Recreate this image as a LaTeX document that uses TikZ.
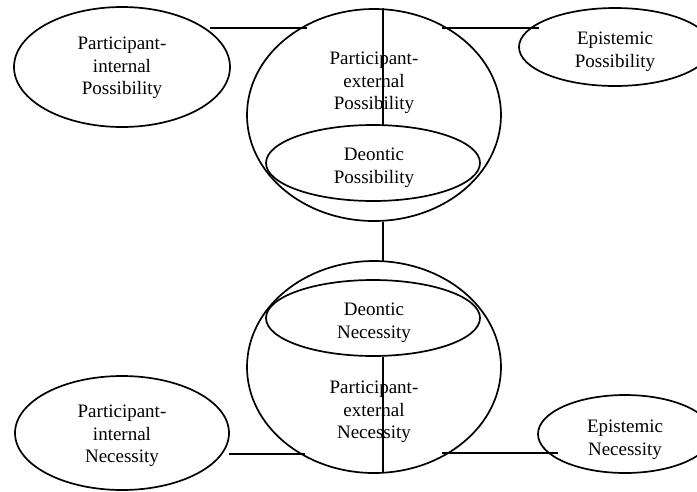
\documentclass[tikz,border=0pt]{standalone}
\usepackage{fontspec}
\setmainfont{Liberation Serif}
\usetikzlibrary{shapes.geometric}
\begin{document}
\begin{tikzpicture}[x=1pt,y=-1pt,
  oval/.style={draw, ellipse, line width=1.7pt, inner sep=0pt},
  lbl/.style={align=center, font=\fontsize{19}{22.5}\selectfont, inner sep=0pt},
  link/.style={line width=1.7pt}]
\useasboundingbox (0,0) rectangle (697,491);
\clip (0,0) rectangle (697,491);

% possibility half
\node[oval, minimum width=254pt, minimum height=212pt] (topc) at (374,115) {};
\node[oval, minimum width=214pt, minimum height=76pt] (dp) at (373,163) {};
\node[oval, minimum width=216pt, minimum height=120pt] (pip) at (122,67) {};
\node[oval, minimum width=192pt, minimum height=78pt] (ep) at (615,47) {};
\node[lbl] (dpT) at (374,168) {Deontic\\Possibility};
\node[lbl] (pepT) at (374,83) {Participant-\\external\\Possibility};
\node[lbl] (pipT) at (122,68) {Participant-\\internal\\Possibility};
\node[lbl] (epT) at (615,52) {Epistemic\\Possibility};

% necessity half
\node[oval, minimum width=254pt, minimum height=212pt] (botc) at (374,367) {};
\node[oval, minimum width=214pt, minimum height=76pt] (dn) at (373,318) {};
\node[oval, minimum width=214pt, minimum height=114pt] (pin) at (122,433) {};
\node[oval, minimum width=174pt, minimum height=78pt] (en) at (625,434) {};
\node[lbl] (dnT) at (374,323) {Deontic\\Necessity};
\node[lbl] (penT) at (374,412) {Participant-\\external\\Necessity};
\node[lbl] (pinT) at (122,436) {Participant-\\internal\\Necessity};
\node[lbl] (enT) at (625,440) {Epistemic\\Necessity};

% connector end points
\coordinate (pipR) at (210,28);
\coordinate (topcL) at (307,28);
\coordinate (topcR) at (442,28);
\coordinate (epL) at (539,28);
\coordinate (topcN) at (383,8);
\coordinate (dpN) at (383,125);
\coordinate (topcS) at (383,222);
\coordinate (botcN) at (383,261);
\coordinate (dnS) at (383,357);
\coordinate (botcS) at (383,473);
\coordinate (pinR) at (229,454);
\coordinate (botcL) at (305,454);
\coordinate (botcR) at (442,453);
\coordinate (enL) at (558,453);

\draw[link] (pipR) -- (topcL);
\draw[link] (topcR) -- (epL);
\draw[link] (topcN) -- (dpN);
\draw[link] (topcS) -- (botcN);
\draw[link] (dnS) -- (botcS);
\draw[link] (pinR) -- (botcL);
\draw[link] (botcR) -- (enL);
\end{tikzpicture}
\end{document}
